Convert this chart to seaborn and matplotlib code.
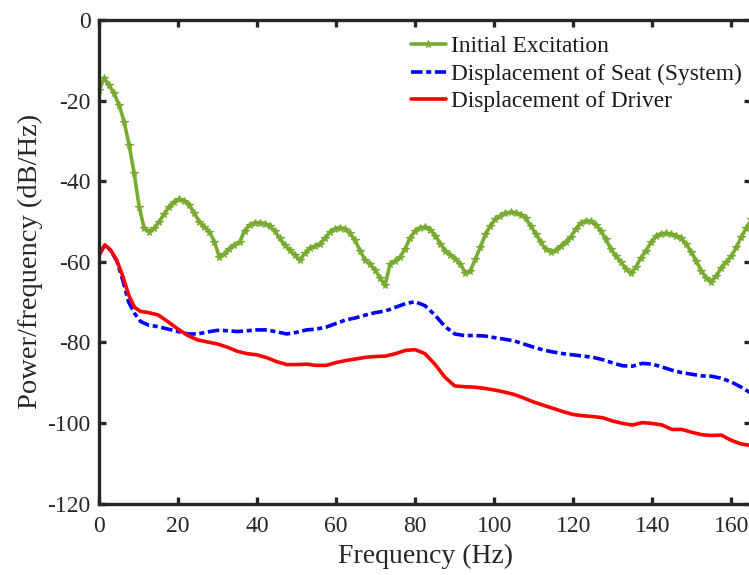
import numpy as np
import pandas as pd
import matplotlib
matplotlib.use("Agg")
import matplotlib.pyplot as plt
import seaborn as sns

# ---- data -------------------------------------------------------------
# Road excitation PSD, sampled on a ~1.27 Hz grid (dB/Hz)
excitation_step = 1.27
excitation_db = [
    -17.4, -14.5, -16.1, -18.2, -21.1, -25.2, -31.0, -38.0, -46.3, -51.7,
    -52.5, -51.7, -50.0, -48.1, -46.3, -45.1, -44.5, -44.8, -45.9, -48.0,
    -50.0, -51.3, -52.5, -55.0, -58.9, -58.0, -56.7, -55.8, -55.2, -52.3,
    -50.9, -50.3, -50.3, -50.5, -51.2, -52.3, -54.2, -55.8, -57.1, -58.3,
    -59.6, -57.9, -56.6, -56.2, -55.5, -54.2, -52.6, -51.8, -51.5, -51.8,
    -52.9, -54.6, -57.2, -59.5, -60.6, -62.0, -64.0, -65.8, -60.6, -59.8,
    -58.8, -56.8, -54.0, -52.4, -51.5, -51.4, -52.0, -53.5, -55.5, -57.2,
    -58.3, -59.2, -60.5, -62.8, -62.2, -59.3, -56.3, -53.2, -51.0, -49.4,
    -48.6, -48.0, -47.7, -47.8, -48.3, -49.2, -51.0, -53.0, -55.0, -56.9,
    -57.5, -57.1, -56.2, -55.0, -53.8, -51.9, -50.4, -49.8, -49.9, -50.8,
    -52.3, -54.4, -56.8, -58.6, -60.0, -61.8, -62.9, -61.3, -59.0, -57.2,
    -55.2, -53.7, -53.0, -52.9, -53.1, -53.5, -54.2, -55.6, -57.5, -59.8,
    -62.2, -64.0, -64.9, -63.5, -61.5, -60.0, -58.6, -56.4, -53.8, -51.6,
    -49.5,
]
excitation_freq = np.arange(len(excitation_db)) * excitation_step

# Response PSDs (Hz, dB/Hz)
response_freq = [
    0, 1.5, 3, 4.5, 6, 7.5, 9, 10.5, 12.5,
    15, 17.5, 20, 22.5, 25, 27.5, 30, 32.5, 35, 37.5, 40, 42.5, 45, 47.5,
    50, 52.5, 55, 57.5, 60, 62.5, 65, 67.5, 70, 72.5, 75, 77.5, 80, 82.5,
    85, 87.5, 90, 92.5, 95, 97.5, 100, 102.5, 105, 107.5, 110, 112.5,
    115, 117.5, 120, 122.5, 125, 127.5, 130, 132.5, 135, 137.5, 140,
    142.5, 145, 147.5, 150, 152.5, 155, 157.5, 160, 162.5, 165,
]
seat_db = [
    -58.3, -55.8, -57.2, -59.8, -64.5, -70.0, -72.8, -74.8, -75.7,
    -76.1, -76.7, -77.3, -77.9, -77.9, -77.4, -77.0, -77.1, -77.3, -77.1,
    -76.9, -76.9, -77.4, -77.9, -77.5, -76.9, -76.7, -76.2, -75.3, -74.4,
    -73.9, -73.2, -72.6, -72.2, -71.3, -70.4, -69.9, -70.9, -73.2, -76.0,
    -77.9, -78.3, -78.3, -78.4, -78.8, -79.2, -79.6, -80.4, -81.2, -81.9,
    -82.4, -82.8, -83.1, -83.4, -83.7, -84.3, -85.1, -85.8, -85.9, -85.2,
    -85.4, -86.1, -86.9, -87.5, -87.9, -88.3, -88.4, -88.9, -89.8, -91.1,
    -92.6,
]
driver_db = [
    -58.3, -55.8, -57.2, -59.6, -63.5, -68.2, -71.3, -72.3, -72.6,
    -73.2, -74.9, -76.7, -78.3, -79.4, -79.9, -80.4, -81.2, -82.2, -82.8,
    -83.1, -83.8, -84.8, -85.5, -85.5, -85.4, -85.7, -85.7, -85.0, -84.5,
    -84.1, -83.7, -83.5, -83.4, -82.8, -82.0, -81.8, -82.8, -85.4, -88.6,
    -90.8, -91.0, -91.1, -91.4, -91.8, -92.3, -92.9, -93.8, -94.8, -95.6,
    -96.4, -97.2, -97.9, -98.2, -98.4, -98.7, -99.5, -100.1, -100.5, -99.9,
    -100.1, -100.5, -101.6, -101.6, -102.3, -102.9, -103.1, -103.0, -104.3,
    -105.2, -105.6,
]

labels = ["Initial Excitation", "Displacement of Seat (System)", "Displacement of Driver"]
x_ticks = [0, 20, 40, 60, 80, 100, 120, 140, 160]
y_ticks = [-120, -100, -80, -60, -40, -20, 0]

exc_df = pd.DataFrame({"freq": excitation_freq, "psd": excitation_db})
resp_df = pd.DataFrame({"freq": response_freq, "seat": seat_db, "driver": driver_db})

# ---- style ------------------------------------------------------------
sns.set_style("ticks")
plt.rcParams["font.family"] = ["Liberation Serif", "DejaVu Serif"]

fig = plt.figure(figsize=(7.49, 5.75), dpi=100)
ax = fig.add_axes([99 / 749, 1 - 503.6 / 575, (751 - 99) / 749, (503.6 - 20) / 575])

green = "#77AC30"
sns.lineplot(data=exc_df, x="freq", y="psd", ax=ax, color=green, lw=2.6,
             marker="*", markersize=5.5, markeredgewidth=0.9, markeredgecolor=green,
             label=labels[0], sort=False)
sns.lineplot(data=resp_df, x="freq", y="seat", ax=ax, color="#0000FF", lw=2.6,
             label=labels[1], sort=False)
sns.lineplot(data=resp_df, x="freq", y="driver", ax=ax, color="#FF0000", lw=2.6,
             label=labels[2], sort=False)
ax.lines[1].set_dashes([3.2, 1.0, 1.4, 1.0])

ax.set_xlim(0, 165)
ax.set_ylim(-120, 0)
ax.set_xticks(x_ticks)
ax.set_yticks(y_ticks)
ax.set_xticklabels([str(t) for t in x_ticks])
ax.set_yticklabels([str(t) for t in y_ticks])

ax.set_xlabel("Frequency (Hz)", fontsize=20, color="#262626", labelpad=5)
ax.set_ylabel("Power/frequency (dB/Hz)", fontsize=20.5, color="#262626", labelpad=3)

for side in ["left", "right", "top", "bottom"]:
    ax.spines[side].set_visible(True)
    ax.spines[side].set_linewidth(2.4)
    ax.spines[side].set_color("#262626")
ax.tick_params(axis="both", which="major", direction="in", length=5, width=2.4,
               color="#262626", labelsize=17, labelcolor="#262626",
               top=True, right=True)
ax.tick_params(axis="x", pad=9)
ax.tick_params(axis="y", pad=6)

leg = ax.legend(loc="upper left", bbox_to_anchor=(0.4785, 0.967), frameon=False,
                fontsize=16.8, handlelength=1.5, handletextpad=0.22,
                labelspacing=0.26, borderaxespad=0, borderpad=0, numpoints=1)
for t in leg.get_texts():
    t.set_color("#1a1a1a")

fig.savefig("out.png", dpi=100)
